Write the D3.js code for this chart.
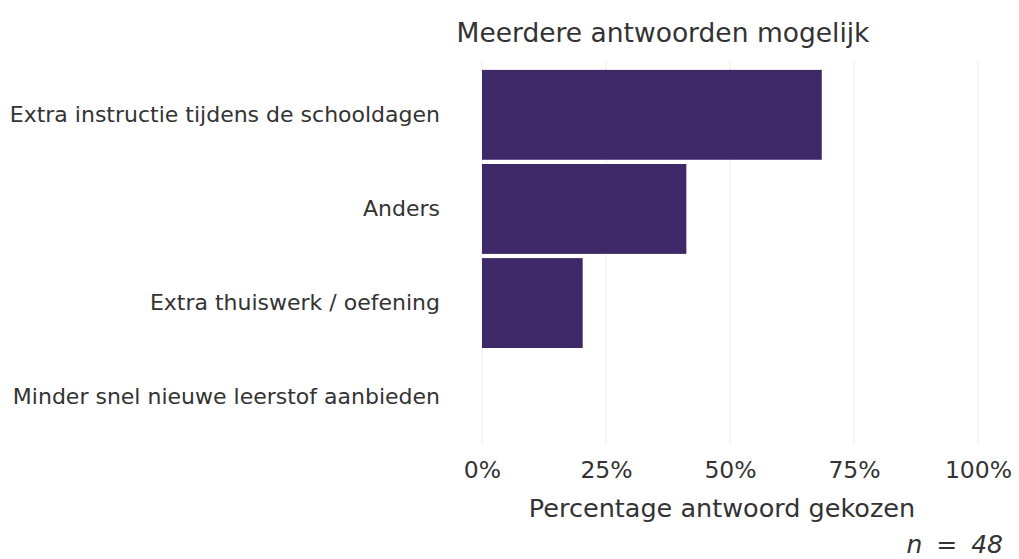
<!DOCTYPE html>
<html><head><meta charset="utf-8">
<script src="https://cdn.jsdelivr.net/npm/d3@7"></script>
<style>body{margin:0;background:#fff}svg{display:block}text{font-family:"DejaVu Sans",Verdana,sans-serif;fill:#333}</style>
</head><body><svg id="c" width="1019" height="559"></svg>
<script>
const categories = ["Extra instructie tijdens de schooldagen","Anders","Extra thuiswerk / oefening","Minder snel nieuwe leerstof aanbieden"];
const values = [68.5, 41.2, 20.3, 0];
const tickValues = [0, 25, 50, 75, 100];
const title = "Meerdere antwoorden mogelijk";
const xTitle = "Percentage antwoord gekozen";
const note = "n = 48";

const svg = d3.select("#c");
const x = d3.scaleLinear().domain([0,100]).range([482,978]);
const y = d3.scaleBand().domain(categories).range([68,444]).paddingInner(0.045).paddingOuter(0.02);

svg.append("g").selectAll("line").data(tickValues).join("line")
  .attr("x1",d=>x(d)).attr("x2",d=>x(d)).attr("y1",60).attr("y2",445)
  .attr("stroke","#eceef3").attr("stroke-width",1);

svg.append("g").selectAll("rect").data(values).join("rect")
  .attr("x",x(0)).attr("y",(d,i)=>y(categories[i]))
  .attr("width",d=>x(d)-x(0)).attr("height",y.bandwidth())
  .attr("fill","#3e2868");

const xa = svg.append("g").attr("transform","translate(0,445)")
  .call(d3.axisBottom(x).tickValues(tickValues).tickFormat(d=>d+"%").tickSize(0).tickPadding(0));
xa.select(".domain").remove();
xa.selectAll("text").attr("dy",null).attr("y",33).attr("font-size",23.5).attr("fill","#333").attr("font-family","DejaVu Sans, Verdana, sans-serif");

const ya = svg.append("g").attr("transform","translate(482,0)")
  .call(d3.axisLeft(y).tickSize(0).tickPadding(42));
ya.select(".domain").remove();
ya.selectAll("text").attr("font-size",22).attr("fill","#333").attr("font-family","DejaVu Sans, Verdana, sans-serif");

svg.append("text").attr("x",663).attr("y",42).attr("text-anchor","middle").attr("font-size",26.5).text(title);
svg.append("text").attr("x",722).attr("y",517).attr("text-anchor","middle").attr("font-size",25.5).text(xTitle);
svg.append("text").attr("x",1003).attr("y",553).attr("text-anchor","end").attr("font-size",25).attr("font-style","italic").attr("word-spacing",6).text(note);
</script></body></html>
